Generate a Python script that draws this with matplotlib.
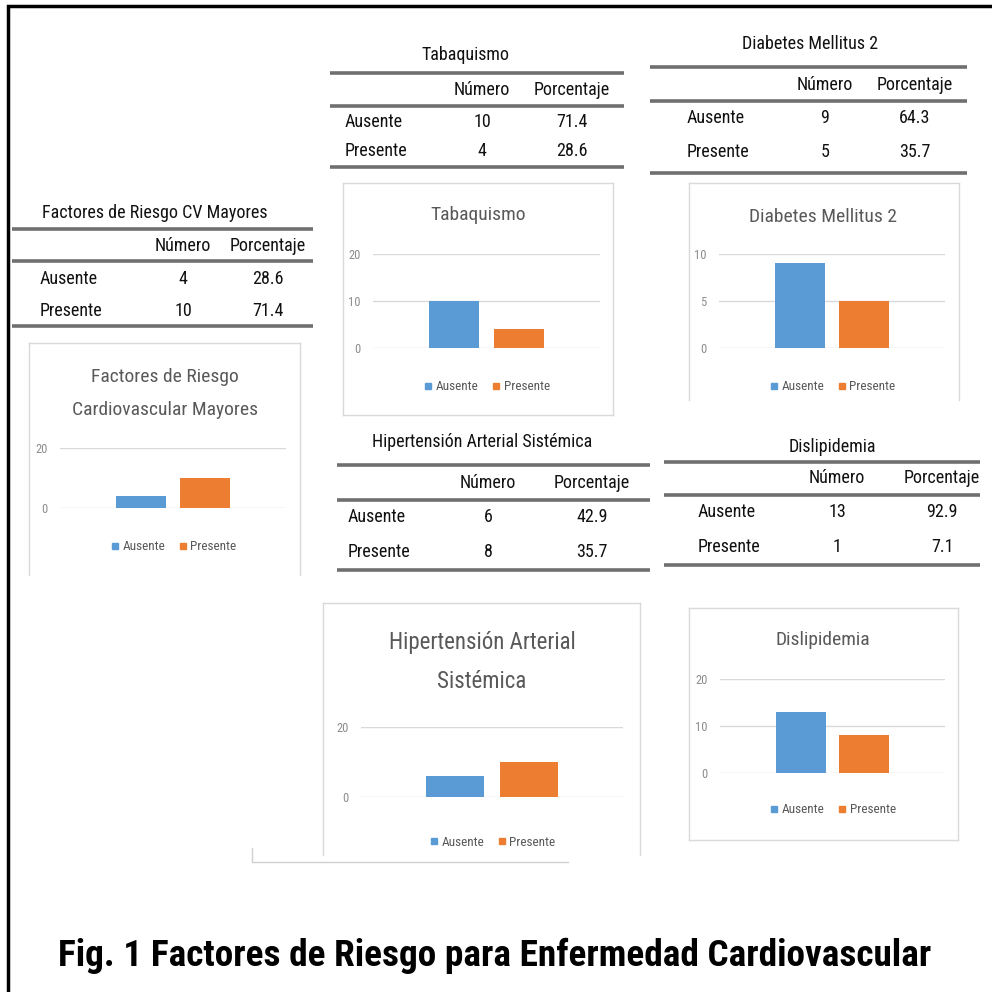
import matplotlib.pyplot as plt
from matplotlib.lines import Line2D

# datos de las tablas y graficas
tabla_titulos = ['Factores de Riesgo CV Mayores', 'Tabaquismo', 'Diabetes Mellitus 2',
                 'Hipertensión Arterial Sistémica', 'Dislipidemia']
grafica_titulos = ['Factores de Riesgo\nCardiovascular Mayores', 'Tabaquismo', 'Diabetes Mellitus 2',
                   'Hipertensión Arterial\nSistémica', 'Dislipidemia']
categorias = ['Ausente', 'Presente']
numero = [[4, 10], [10, 4], [9, 5], [6, 8], [13, 1]]
porcentaje = [['28.6', '71.4'], ['71.4', '28.6'], ['64.3', '35.7'], ['42.9', '35.7'], ['92.9', '7.1']]
barras = [[4, 10], [10, 4], [9, 5], [6, 10], [13, 8]]
yticks = [[0, 20], [0, 10, 20], [0, 5, 10], [0, 20], [0, 10, 20]]
pie = 'Fig. 1 Factores de Riesgo para Enfermedad Cardiovascular'

colores = ['#5B9BD5', '#ED7D31']
fuente = ['Roboto Condensed', 'Lato', 'DejaVu Sans']
tam_tabla = 13

# posiciones en pixeles
layout = [
    dict(tx=155, ty=213, lx=(12, 313), ly=(229, 261, 326), hy=246, ry=(279, 311), cx=(40, 183, 268),
         box=(29, 300, 343, 575), box_sides='lrt', gy=(377, 410), gx=165, gs=14,
         pa=(60, 286, 448, 508), ly_leg=547),
    dict(tx=465, ty=55, lx=(330, 624), ly=(73, 106, 167), hy=90, ry=(122, 151), cx=(345, 482, 572),
         box=(343, 613, 183, 415), box_sides='lrtb', gy=(215,), gx=478, gs=14,
         pa=(373, 600, 254, 348), ly_leg=387),
    dict(tx=810, ty=44, lx=(650, 967), ly=(67, 101, 173), hy=85, ry=(118, 152), cx=(687, 825, 915),
         box=(689, 959, 183, 400), box_sides='lrt', gy=(217,), gx=823, gs=14,
         pa=(719, 945, 254, 348), ly_leg=387),
    dict(tx=482, ty=442, lx=(337, 650), ly=(465, 500, 570), hy=483, ry=(517, 552), cx=(348, 488, 592),
         box=(323, 640, 603, 855), box_sides='lrt', gy=(643, 681), gx=482, gs=16.5,
         pa=(361, 623, 727, 797), ly_leg=842),
    dict(tx=832, ty=447, lx=(664, 980), ly=(462, 495, 565), hy=478, ry=(512, 547), cx=(698, 837, 942),
         box=(689, 958, 608, 840), box_sides='lrtb', gy=(640,), gx=823, gs=14,
         pa=(720, 945, 679, 773), ly_leg=810),
]

W = 992
fig = plt.figure(figsize=(9.92, 9.92), dpi=100)
fondo = fig.add_axes([0, 0, 1, 1])
fondo.set_xlim(0, W)
fondo.set_ylim(W, 0)
fondo.axis('off')

# marco negro (solo arriba e izquierda)
fondo.plot([8, 8, W], [W, 6, 6], color='black', lw=2.5, solid_joinstyle='miter')

for i, L in enumerate(layout):
    # tabla
    fondo.text(L['tx'], L['ty'], tabla_titulos[i], ha='center', va='center', fontsize=tam_tabla,
               family=fuente, color='#111111')
    for y in L['ly']:
        fondo.plot(L['lx'], [y, y], color='#6f6f6f', lw=2.6, solid_capstyle='butt')
    fondo.text(L['cx'][1], L['hy'], 'Número', ha='center', va='center', fontsize=tam_tabla,
               family=fuente, color='#111111')
    fondo.text(L['cx'][2], L['hy'], 'Porcentaje', ha='center', va='center', fontsize=tam_tabla,
               family=fuente, color='#111111')
    for j, cat in enumerate(categorias):
        y = L['ry'][j]
        fondo.text(L['cx'][0], y, cat, ha='left', va='center', fontsize=tam_tabla, family=fuente,
                   color='#111111')
        fondo.text(L['cx'][1], y, str(numero[i][j]), ha='center', va='center', fontsize=tam_tabla,
                   family=fuente, color='#111111')
        fondo.text(L['cx'][2], y, porcentaje[i][j], ha='center', va='center', fontsize=tam_tabla,
                   family=fuente, color='#111111')

    # caja de la grafica
    bx0, bx1, by0, by1 = L['box']
    if 'l' in L['box_sides']:
        fondo.plot([bx0, bx0], [by0, by1], color='#d9d9d9', lw=1)
    if 'r' in L['box_sides']:
        fondo.plot([bx1, bx1], [by0, by1], color='#d9d9d9', lw=1)
    if 't' in L['box_sides']:
        fondo.plot([bx0, bx1], [by0, by0], color='#d9d9d9', lw=1)
    if 'b' in L['box_sides']:
        fondo.plot([bx0, bx1], [by1, by1], color='#d9d9d9', lw=1)

    for linea, y in zip(grafica_titulos[i].split('\n'), L['gy']):
        fondo.text(L['gx'], y, linea, ha='center', va='center', fontsize=L['gs'], family=fuente,
                   color='#595959')

    # area de grafica
    px0, px1, py0, py1 = L['pa']
    ax = fig.add_axes([px0 / W, 1 - py1 / W, (px1 - px0) / W, (py1 - py0) / W])
    ax.patch.set_alpha(0)
    ax.bar([-0.64, 0.64], barras[i], width=1, color=colores, zorder=3)
    ax.set_xlim(-2.26, 2.26)
    ax.set_ylim(0, yticks[i][-1])
    ax.set_yticks(yticks[i])
    ax.set_xticks([])
    ax.tick_params(axis='y', length=0, labelsize=9, labelcolor='#8c8c8c', pad=9)
    ax.yaxis.grid(True, color='#d9d9d9', lw=1)
    for s in ax.spines.values():
        s.set_visible(False)
    for lab in ax.get_yticklabels():
        lab.set_family(fuente)

    handles = [Line2D([], [], marker='s', ls='', color=c, markersize=5) for c in colores]
    leg_y = (py1 - L['ly_leg']) / (py1 - py0)
    leg = ax.legend(handles, categorias, loc='center', bbox_to_anchor=(0.5, leg_y), ncol=2, frameon=False,
                    handlelength=0.8, handletextpad=0.2, columnspacing=0.9,
                    prop={'family': fuente, 'size': 9.5})
    for t in leg.get_texts():
        t.set_color('#595959')

# linea suelta bajo la grafica de hipertension
fondo.plot([252, 252, 568], [848, 862, 862], color='#d0d0d0', lw=1)

fondo.text(58, 956, pie, ha='left', va='center', fontsize=26.8, fontweight='bold',
           family=['Roboto Condensed', 'Liberation Sans', 'DejaVu Sans'], color='black')

plt.savefig('out.png', dpi=100)
